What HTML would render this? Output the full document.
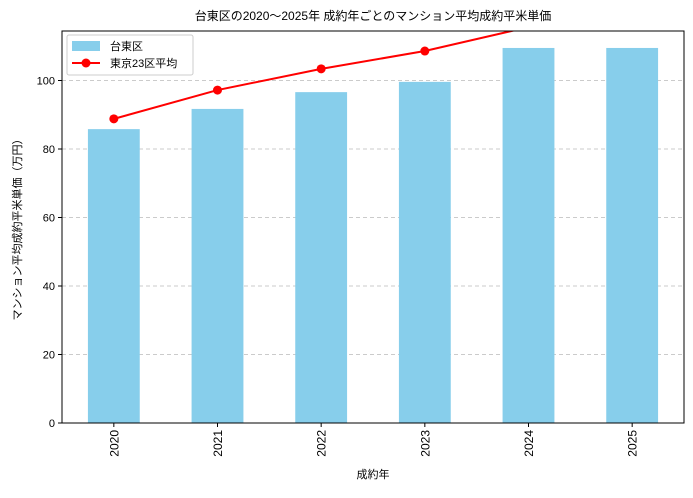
<!DOCTYPE html>
<html><head><meta charset="utf-8"><style>
body{margin:0;background:#fff;}
svg text{font-family:"Liberation Sans","Noto Sans CJK JP",sans-serif;fill:#000;}
</style></head><body>
<svg id="c" width="693" height="493" xmlns="http://www.w3.org/2000/svg">
<defs><clipPath id="clip"><rect x="62" y="31" width="622" height="392"/></clipPath></defs>
<text x="373" y="20" font-size="12" text-anchor="middle">台東区の2020〜2025年 成約年ごとのマンション平均成約平米単価</text>
<g id="grid"></g><g id="bars"></g><g id="line" clip-path="url(#clip)"></g><g id="axes"></g>
<rect x="62" y="31" width="622" height="392" fill="none" stroke="#000" stroke-width="1"/>
<text x="373" y="478" font-size="11" text-anchor="middle">成約年</text>
<text transform="translate(21,227) rotate(-90)" font-size="11" text-anchor="middle">マンション平均成約平米単価（万円）</text>
<g>
<rect x="67" y="35" width="126" height="40" fill="#fff" stroke="#ccc" rx="2"/>
<rect x="72" y="41" width="28" height="10" fill="#87CEEB"/>
<text x="110" y="50" font-size="11">台東区</text>
<line x1="72" y1="63" x2="100" y2="63" stroke="red" stroke-width="2"/>
<circle cx="86" cy="63" r="4.5" fill="red"/>
<text x="110" y="67" font-size="11">東京23区平均</text>
</g>
</svg>
<script>
const categories=["2020","2021","2022","2023","2024","2025"];
const taitoValues=[85.8,91.7,96.6,99.6,109.5,109.5];
const tokyoAvgValues=[88.8,97.2,103.4,108.6,115.6,120];
const yTicks=[0,20,40,60,80,100];
const NS="http://www.w3.org/2000/svg";
const L=62,R=684,T=31,B=423,YMAX=114.45;
const y=v=>B-(v/YMAX)*(B-T);
const bw=(R-L)/categories.length;
const x=i=>L+bw*(i+0.5);
function mk(t,a,p){const e=document.createElementNS(NS,t);for(const k in a)e.setAttribute(k,a[k]);p.appendChild(e);return e;}
const grid=document.getElementById('grid'),axes=document.getElementById('axes'),bars=document.getElementById('bars'),line=document.getElementById('line');
yTicks.forEach(v=>{
 if(v>0){const g=mk('line',{x1:L,x2:R,y1:y(v),y2:y(v),stroke:'#bbb','stroke-dasharray':'4,3','stroke-width':0.8},grid);
 
 }
 mk('line',{x1:L-4,x2:L,y1:y(v),y2:y(v),stroke:'#000'},axes);
 const t=mk('text',{x:L-7,y:y(v)+4,'font-size':11,'text-anchor':'end'},axes);t.textContent=v;
 
 
});
categories.forEach((c,i)=>{
 const r=mk('rect',{x:x(i)-bw*0.25,y:y(taitoValues[i]),width:bw*0.5,height:B-y(taitoValues[i]),fill:'#87CEEB'},bars);
 
 
 mk('line',{x1:x(i),x2:x(i),y1:B,y2:B+4,stroke:'#000'},axes);
 const t=mk('text',{transform:`translate(${x(i)+4.5},${B+7}) rotate(-90)`,'font-size':12,'text-anchor':'end'},axes);t.textContent=c;
 
 
});
const pl=mk('polyline',{points:tokyoAvgValues.map((v,i)=>x(i)+','+y(v)).join(' '),fill:'none',stroke:'red','stroke-width':2},line);


tokyoAvgValues.forEach((v,i)=>{
 const c=mk('circle',{cx:x(i),cy:y(v),r:4.5,fill:'red'},line);
 
 
});
</script>
</body></html>
